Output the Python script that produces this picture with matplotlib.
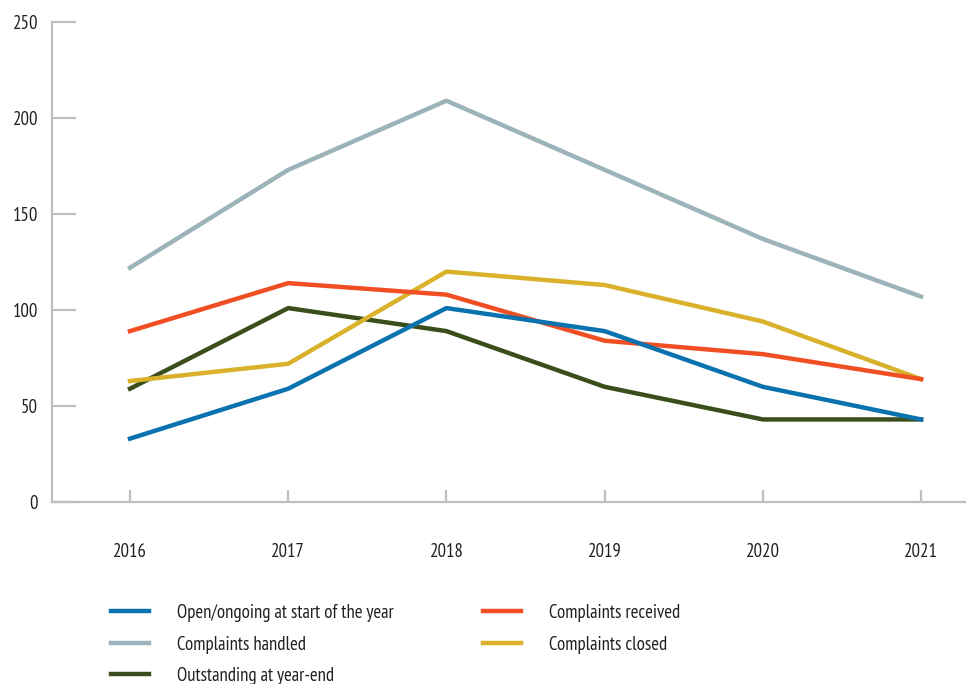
import matplotlib
matplotlib.use("Agg")
import matplotlib.pyplot as plt
from matplotlib import font_manager

years = ["2016", "2017", "2018", "2019", "2020", "2021"]
open_start = [33, 59, 101, 89, 60, 43]
received = [89, 114, 108, 84, 77, 64]
handled = [122, 173, 209, 173, 137, 107]
closed = [63, 72, 120, 113, 94, 64]
outstanding = [59, 101, 89, 60, 43, 43]

names = {f.name for f in font_manager.fontManager.ttflist}
for fam in ["PT Sans Narrow", "Fira Sans Condensed", "Roboto Condensed", "DejaVu Sans"]:
    if fam in names:
        plt.rcParams["font.family"] = [fam, "DejaVu Sans"]
        break

grey = "#BEBFC2"
txt = "#231F20"
fs = 13.5

fig = plt.figure(figsize=(9.66, 6.84), dpi=100)
ax = fig.add_axes([52 / 966, 1 - 502 / 684, 914 / 966, 480 / 684])

x = list(range(len(years)))
lw = 3.2
l_hand, = ax.plot(x, handled, color="#9BB3B9", lw=lw, label="Complaints handled")
l_out, = ax.plot(x, outstanding, color="#3B4D1B", lw=lw, label="Outstanding at year-end")
l_clo, = ax.plot(x, closed, color="#D9B12B", lw=lw, label="Complaints closed")
l_rec, = ax.plot(x, received, color="#F04E23", lw=lw, label="Complaints received")
l_open, = ax.plot(x, open_start, color="#0A72AE", lw=lw, label="Open/ongoing at start of the year")

ax.set_ylim(0, 250)
ax.set_xlim(-0.493, 5.284)
ax.set_xticks(x)
ax.set_xticklabels(years)
ax.set_yticks([0, 50, 100, 150, 200, 250])

for s in ["top", "right"]:
    ax.spines[s].set_visible(False)
for s in ["left", "bottom"]:
    ax.spines[s].set_color(grey)
    ax.spines[s].set_linewidth(1.6)

ax.tick_params(axis="y", direction="in", length=17, width=1.6, color=grey,
               pad=10, labelsize=fs, labelcolor=txt)
ax.tick_params(axis="x", direction="in", length=9, width=1.6, color=grey,
               pad=29.5, labelsize=fs, labelcolor=txt)

leg_kw = dict(frameon=False, fontsize=fs, handlelength=2.0, handletextpad=1.5,
              labelspacing=0.72, borderaxespad=0, borderpad=0)
leg1 = fig.legend(handles=[l_open, l_hand, l_out], loc="upper left",
                  bbox_to_anchor=(111 / 966, 1 - 604 / 684), **leg_kw)
leg2 = fig.legend(handles=[l_rec, l_clo], loc="upper left",
                  bbox_to_anchor=(483 / 966, 1 - 604 / 684), **leg_kw)
for leg in (leg1, leg2):
    for t in leg.get_texts():
        t.set_color(txt)

fig.savefig("out.png", dpi=100)
